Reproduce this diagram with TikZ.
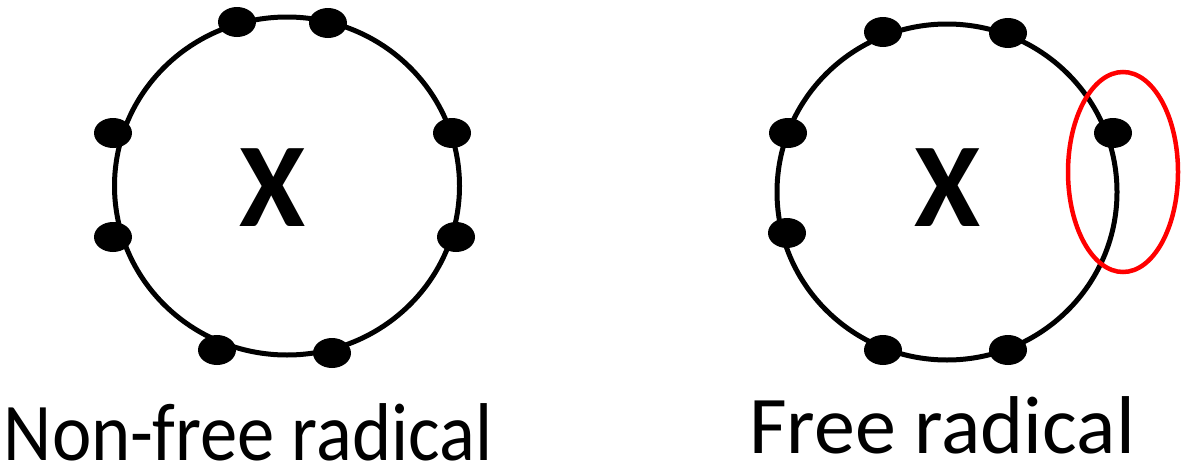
\documentclass[tikz,border=0pt]{standalone}
\usepackage{fontspec}
\setmainfont{Carlito}
\usetikzlibrary{shapes.geometric}
\tikzset{
  shell/.style={draw=black, line width=5pt},
  electron/.style={ellipse, fill=black, inner sep=0pt, minimum width=38pt, minimum height=30pt},
  atom/.style={font=\fontsize{120}{120}\selectfont\bfseries, inner sep=0pt},
  caption/.style={font=\fontsize{82}{82}\selectfont, inner sep=0pt, anchor=base}
}
\begin{document}
\begin{tikzpicture}[x=1pt,y=-1pt]
\useasboundingbox (0,0) rectangle (1185,471);
% left atom
\draw[shell] (287,186) ellipse [x radius=172.5, y radius=169];
\node[atom] (xl) at (273,188) {X};
\node[electron] (l1) at (237,22) {};
\node[electron] (l2) at (328,23) {};
\node[electron] (l3) at (113,133) {};
\node[electron] (l4) at (113,237) {};
\node[electron] (l5) at (452,133) {};
\node[electron] (l6) at (456,237) {};
\node[electron] (l7) at (217,350) {};
\node[electron] (l8) at (332,353) {};
\node[caption, xscale=0.91] (tl) at (248,460) {Non-free radical};
% right atom
\draw[shell] (947,192) ellipse [x radius=170, y radius=168];
\node[atom] (xr) at (948,188) {X};
\node[electron] (r1) at (883,32) {};
\node[electron] (r2) at (1008,33) {};
\node[electron] (r3) at (788,133) {};
\node[electron] (r4) at (787,233) {};
\node[electron] (r5) at (1113,133) {};
\node[electron] (r7) at (883,350) {};
\node[electron] (r8) at (1008,350) {};
\draw[red, line width=4.5pt] (1123,172) ellipse [x radius=55, y radius=100];
\node[caption] (tr) at (942,453) {Free radical};
\end{tikzpicture}
\end{document}
